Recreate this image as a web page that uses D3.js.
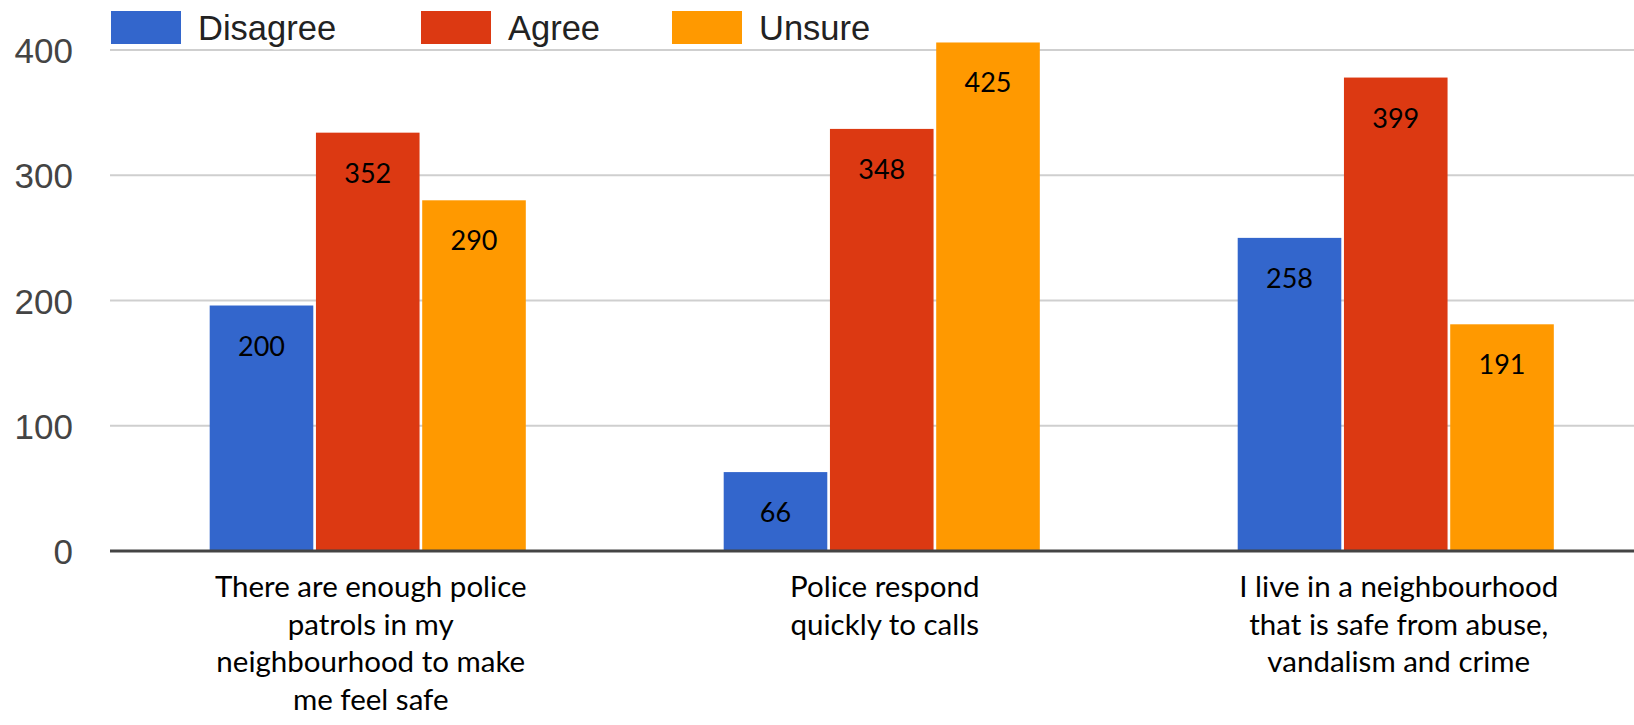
<!DOCTYPE html>
<html>
<head>
<meta charset="utf-8">
<script src="https://cdn.jsdelivr.net/npm/d3@7"></script>
<style>
  html, body { margin: 0; padding: 0; background: #fff; }
  svg { display: block; }
</style>
</head>
<body>
<svg id="chart" width="1634" height="725"></svg>
<script>
// ---- Data ----
const categories = [
  ["There are enough police", "patrols in my", "neighbourhood to make", "me feel safe"],
  ["Police respond", "quickly to calls"],
  ["I live in a neighbourhood", "that is safe from abuse,", "vandalism and crime"]
];
const seriesNames = ["Disagree", "Agree", "Unsure"];
const seriesColors = ["#3366CC", "#DC3912", "#FF9900"];
// bar heights as drawn
const disagreeValues = [196, 63, 250];
const agreeValues = [334, 337, 378];
const unsureValues = [280, 406, 181];
// value labels as printed on the bars
const disagreeLabels = ["200", "66", "258"];
const agreeLabels = ["352", "348", "399"];
const unsureLabels = ["290", "425", "191"];
const yTicks = [0, 100, 200, 300, 400];

const seriesValues = [disagreeValues, agreeValues, unsureValues];
const seriesLabels = [disagreeLabels, agreeLabels, unsureLabels];

// ---- Layout ----
const W = 1634, H = 725;
const plotLeft = 110;
const svg = d3.select("#chart");

const y = d3.scaleLinear().domain([0, 400]).range([551, 50]);
const x0 = d3.scaleBand().domain(d3.range(categories.length))
  .range([111, 1652.5]).paddingInner(0.385).paddingOuter(0.192);
const x1 = d3.scaleBand().domain(seriesNames)
  .range([0, x0.bandwidth()]).paddingInner(0.025);

// gridlines
svg.append("g").selectAll("line")
  .data(yTicks.filter(t => t !== 0))
  .join("line")
  .attr("x1", plotLeft).attr("x2", W)
  .attr("y1", d => y(d)).attr("y2", d => y(d))
  .attr("stroke", "#cfcfcf").attr("stroke-width", 2);

// y axis tick labels
const yAxis = d3.axisLeft(y).tickValues(yTicks).tickSize(0).tickPadding(0);
const yg = svg.append("g").attr("transform", "translate(73,0)").call(yAxis);
yg.select(".domain").remove();
yg.selectAll("text")
  .attr("font-family", "'Liberation Sans', Arial, sans-serif")
  .attr("font-size", 35)
  .attr("fill", "#444")
  .attr("dy", "0.36em");

// bars
const rows = [];
categories.forEach((c, i) => {
  seriesNames.forEach((s, j) => {
    rows.push({ cat: i, series: s, idx: j, value: seriesValues[j][i], label: seriesLabels[j][i] });
  });
});

svg.append("g").selectAll("rect")
  .data(rows)
  .join("rect")
  .attr("x", d => x0(d.cat) + x1(d.series))
  .attr("y", d => y(d.value))
  .attr("width", x1.bandwidth())
  .attr("height", d => y(0) - y(d.value))
  .attr("fill", d => seriesColors[d.idx]);

// value labels
svg.append("g").selectAll("text")
  .data(rows)
  .join("text")
  .attr("x", d => x0(d.cat) + x1(d.series) + x1.bandwidth() / 2)
  .attr("y", d => y(d.value) + 50)
  .attr("text-anchor", "middle")
  .attr("font-family", "Lato, 'Open Sans', sans-serif")
  .attr("font-size", 27)
  .attr("fill", "#000")
  .text(d => d.label);

// baseline
svg.append("line")
  .attr("x1", plotLeft).attr("x2", W)
  .attr("y1", y(0)).attr("y2", y(0))
  .attr("stroke", "#444").attr("stroke-width", 3);

// category labels
const catG = svg.append("g").selectAll("text")
  .data(categories)
  .join("text")
  .attr("x", (d, i) => x0(i) + x0.bandwidth() / 2 + 3)
  .attr("y", 597)
  .attr("text-anchor", "middle")
  .attr("font-family", "Lato, 'Open Sans', sans-serif")
  .attr("font-size", 29.5)
  .attr("fill", "#000");
catG.selectAll("tspan")
  .data(d => d)
  .join("tspan")
  .attr("x", function () { return d3.select(this.parentNode).attr("x"); })
  .attr("dy", (d, i) => i === 0 ? 0 : 37.7)
  .text(d => d);

// legend
const legendX = [111, 421, 672];
const lg = svg.append("g").selectAll("g")
  .data(seriesNames)
  .join("g")
  .attr("transform", (d, i) => `translate(${legendX[i]},0)`);
lg.append("rect")
  .attr("x", 0).attr("y", 11)
  .attr("width", 70).attr("height", 33)
  .attr("fill", (d, i) => seriesColors[i]);
lg.append("text")
  .attr("x", 87).attr("y", 39.5)
  .attr("font-family", "'Liberation Sans', Arial, sans-serif")
  .attr("font-size", 34.5)
  .attr("fill", "#222")
  .attr("stroke", "#fff").attr("stroke-width", 5)
  .attr("paint-order", "stroke")
  .text(d => d);
</script>
</body>
</html>
